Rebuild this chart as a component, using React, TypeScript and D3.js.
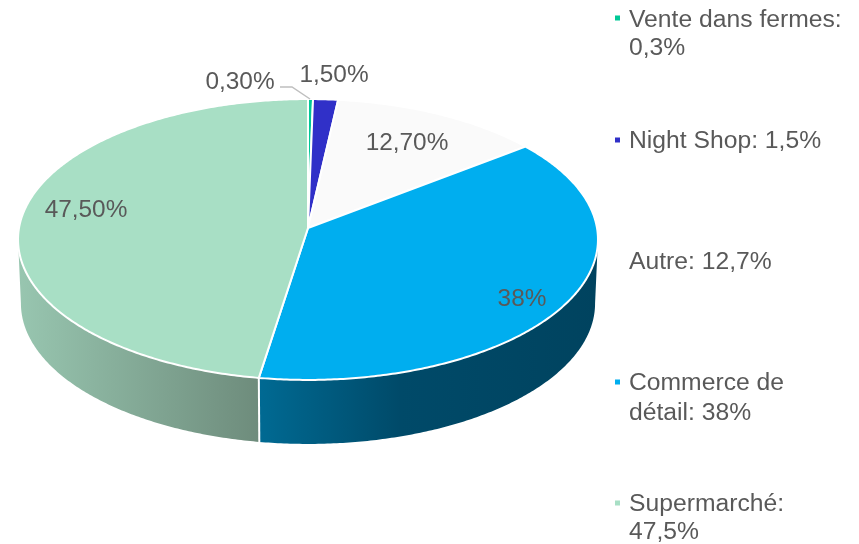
import React from "react";
import * as d3 from "d3";

const categories = ["Vente dans fermes", "Night Shop", "Autre", "Commerce de détail", "Supermarché"];
const values = [0.3, 1.5, 12.7, 38, 47.5];
const colors = ["#00c896", "#3030c8", "#fafafa", "#00aeef", "#a8dfc5"];
const dataLabels = ["0,30%", "1,50%", "12,70%", "38%", "47,50%"];
const legendLines = [["Vente dans fermes:", "0,3%"], ["Night Shop: 1,5%"], ["Autre: 12,7%"], ["Commerce de", "détail: 38%"], ["Supermarché:", "47,5%"]];
const labelPos = [[240, 80], [334, 73], [407, 141], [522, 297], [86, 208]];
const legendY = [[18, 46], [139], [260], [381, 411], [502, 530]];
const markerY = [18, 140, null, 382, 503];

const cx = 308, cy0 = 228, R = 289, S = 139.5, k = 0.0818, depth = 64, baseScale = 0.99;
const W = 859, H = 544;
// Angles where the tilted disc's outline is vertical: the visible wall lies between them.
const frontStart = Math.acos(-k);
const frontEnd = 2 * Math.PI - frontStart;

function project(a: number, dz = 0, scale = 1): [number, number] {
  const u = Math.sin(a), v = -Math.cos(a), w = 1 - k * v;
  return [cx + (scale * R * u) / w, cy0 + (S * v) / w + dz];
}
const pieGen = d3.pie<number>().sort(null).startAngle(0).endAngle(2 * Math.PI);
const arcs = pieGen(values);
const line = d3.line();

function edge(a0: number, a1: number, dz = 0, scale = 1) {
  const n = Math.max(2, Math.ceil((a1 - a0) / 0.01));
  return d3.range(n + 1).map((i) => project(a0 + ((a1 - a0) * i) / n, dz, scale));
}
const topPath = (a0: number, a1: number) => line([[cx, cy0], ...edge(a0, a1)])! + "Z";
const wallPath = (a0: number, a1: number) => {
  const s = Math.max(a0, frontStart), e = Math.min(a1, frontEnd);
  return line([...edge(s, e), ...edge(s, e, depth, baseScale).reverse()])! + "Z";
};

export default function App() {
  const seam = arcs[3].endAngle;
  return (
    <svg width={W} height={H} style={{ position: "absolute", left: 0, top: 0, background: "#fff", fontFamily: "'Liberation Sans', Arial, sans-serif", filter: "blur(0.4px)" }}>
      <defs>
        <linearGradient id="wall3" gradientUnits="userSpaceOnUse" x1={258} x2={598} y1={0} y2={0}>
          <stop offset="0" stopColor="#006a93" />
          <stop offset="0.42" stopColor="#004a69" />
          <stop offset="1" stopColor="#00435f" />
        </linearGradient>
        <linearGradient id="wall4" gradientUnits="userSpaceOnUse" x1={18} x2={258} y1={0} y2={0}>
          <stop offset="0" stopColor="#98c6b0" />
          <stop offset="1" stopColor="#6e8c7c" />
        </linearGradient>
      </defs>
      {arcs.slice(3).map((d, i) => (
        <path key={i} d={wallPath(d.startAngle, d.endAngle)} fill={`url(#wall${i + 3})`} />
      ))}
      <path d={line([project(seam), project(seam, depth, baseScale)])!} stroke="#fff" strokeWidth={2} fill="none" />
      {arcs.map((d, i) => (
        <path key={i} d={topPath(d.startAngle, d.endAngle)} fill={colors[i]} stroke="#fff" strokeWidth={2} strokeLinejoin="round" />
      ))}
      <path d="M280,87 L292,87 L310,99" fill="none" stroke="#bfbfbf" strokeWidth={1.5} />
      {dataLabels.map((t, i) => (
        <text key={i} x={labelPos[i][0]} y={labelPos[i][1]} textAnchor="middle" dominantBaseline="central" fontSize={24.4} fill="#595959">{t}</text>
      ))}
      {categories.map((c, i) => (
        <g key={c}>
          {markerY[i] !== null && <rect x={615} y={(markerY[i] as number) - 2.5} width={5} height={5} fill={colors[i]} />}
          {legendLines[i].map((l, j) => (
            <text key={j} x={629} y={legendY[i][j]} dominantBaseline="central" fontSize={24.7} fill="#595959">{l}</text>
          ))}
        </g>
      ))}
    </svg>
  );
}
